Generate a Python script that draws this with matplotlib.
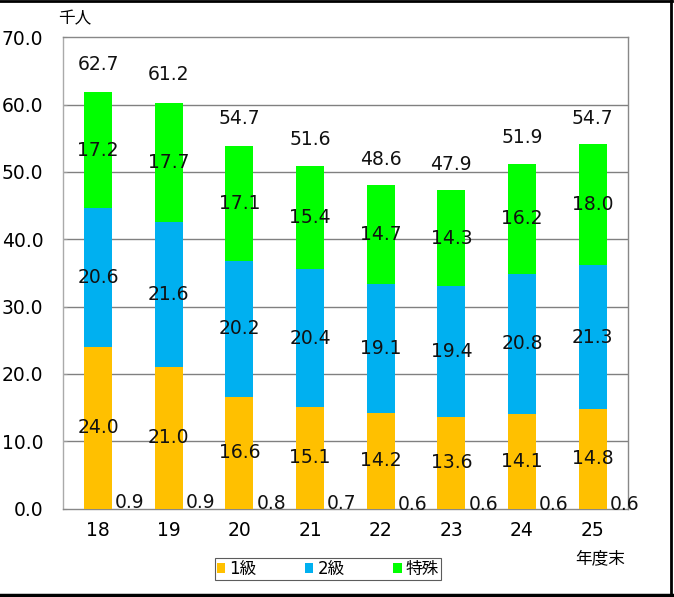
import matplotlib
matplotlib.use("Agg")
import matplotlib.pyplot as plt
from matplotlib.patches import Patch
from matplotlib.lines import Line2D
from matplotlib.ticker import FormatStrFormatter

plt.rcParams['font.family'] = ['DejaVu Sans', 'Noto Sans CJK JP']

# 年度末の人数（千人）
years = ['18', '19', '20', '21', '22', '23', '24', '25']
grade1 = [24.0, 21.0, 16.6, 15.1, 14.2, 13.6, 14.1, 14.8]
grade2 = [20.6, 21.6, 20.2, 20.4, 19.1, 19.4, 20.8, 21.3]
special = [17.2, 17.7, 17.1, 15.4, 14.7, 14.3, 16.2, 18.0]
other = [0.9, 0.9, 0.8, 0.7, 0.6, 0.6, 0.6, 0.6]
totals = [62.7, 61.2, 54.7, 51.6, 48.6, 47.9, 51.9, 54.7]

series_names = ['1級', '2級', '特殊']
colors = ['#FFC000', '#00B0F0', '#00FF00']

FS = 13.5

fig = plt.figure(figsize=(6.74, 5.97), dpi=100)
ax = fig.add_axes([0.093, 0.1482, 0.8388, 0.7895])

x = list(range(len(years)))
width = 0.40
bottom = [0.0] * len(years)
for vals, col in zip([grade1, grade2, special], colors):
    ax.bar(x, vals, width, bottom=bottom, color=col, linewidth=0, zorder=3)
    for i, v in enumerate(vals):
        ax.text(i, bottom[i] + v / 2, f'{v:.1f}', ha='center', va='center',
                fontsize=FS, color='#111111', zorder=5)
    bottom = [b + v for b, v in zip(bottom, vals)]

for i, v in enumerate(other):
    ax.text(i + 0.45, v, f'{v:.1f}', ha='center', va='center',
            fontsize=FS, color='#111111', zorder=5, clip_on=False)

for i, t in enumerate(totals):
    ax.text(i, t + 3.2, f'{t:.1f}', ha='center', va='center',
            fontsize=FS, color='#111111', zorder=5)

ax.set_xlim(-0.5, len(years) - 0.5)
ax.set_ylim(0, 70)
ax.set_yticks(range(0, 71, 10))
ax.yaxis.set_major_formatter(FormatStrFormatter('%.1f'))
ax.set_xticks(x)
ax.set_xticklabels(years)
ax.tick_params(axis='y', direction='in', length=3, width=0.8, color='#999999',
               pad=14, labelsize=FS)
ax.tick_params(axis='x', length=0, pad=9, labelsize=FS)

for yv in range(10, 70, 10):
    ax.axhline(yv, color='#808080', linewidth=1.0, zorder=1)

ax.spines['top'].set_color('#888888')
ax.spines['top'].set_linestyle((0, (2, 1)))
ax.spines['right'].set_color('#888888')
ax.spines['left'].set_color('#aaaaaa')
ax.spines['bottom'].set_color('#888888')
for s in ax.spines.values():
    s.set_linewidth(1.0)

fig.text(75 / 674, 1 - 18 / 597, '千人', ha='center', va='center', fontsize=12)
fig.text(600 / 674, 1 - 558 / 597, '年度末', ha='center', va='center', fontsize=12)

handles = [Patch(facecolor=c, edgecolor='none') for c in colors]
leg = fig.legend(handles, series_names, loc='center', bbox_to_anchor=(0.4866, 0.0469),
                 ncol=3, fontsize=12, frameon=True, fancybox=False,
                 handlelength=0.5, handleheight=0.5, handletextpad=0.25,
                 columnspacing=2.9, borderpad=0.1, borderaxespad=0)
leg.get_frame().set_edgecolor('#333333')
leg.get_frame().set_linewidth(0.8)

# outer frame: top, right and bottom edges
fig.add_artist(Line2D([0, 672 / 674], [1 - 1 / 597, 1 - 1 / 597], color='black', lw=2,
                      transform=fig.transFigure))
fig.add_artist(Line2D([671 / 674, 671 / 674], [0, 1], color='black', lw=2,
                      transform=fig.transFigure))
fig.add_artist(Line2D([0, 672 / 674], [2 / 597, 2 / 597], color='black', lw=2.5,
                      transform=fig.transFigure))

fig.savefig('out.png', dpi=100)
